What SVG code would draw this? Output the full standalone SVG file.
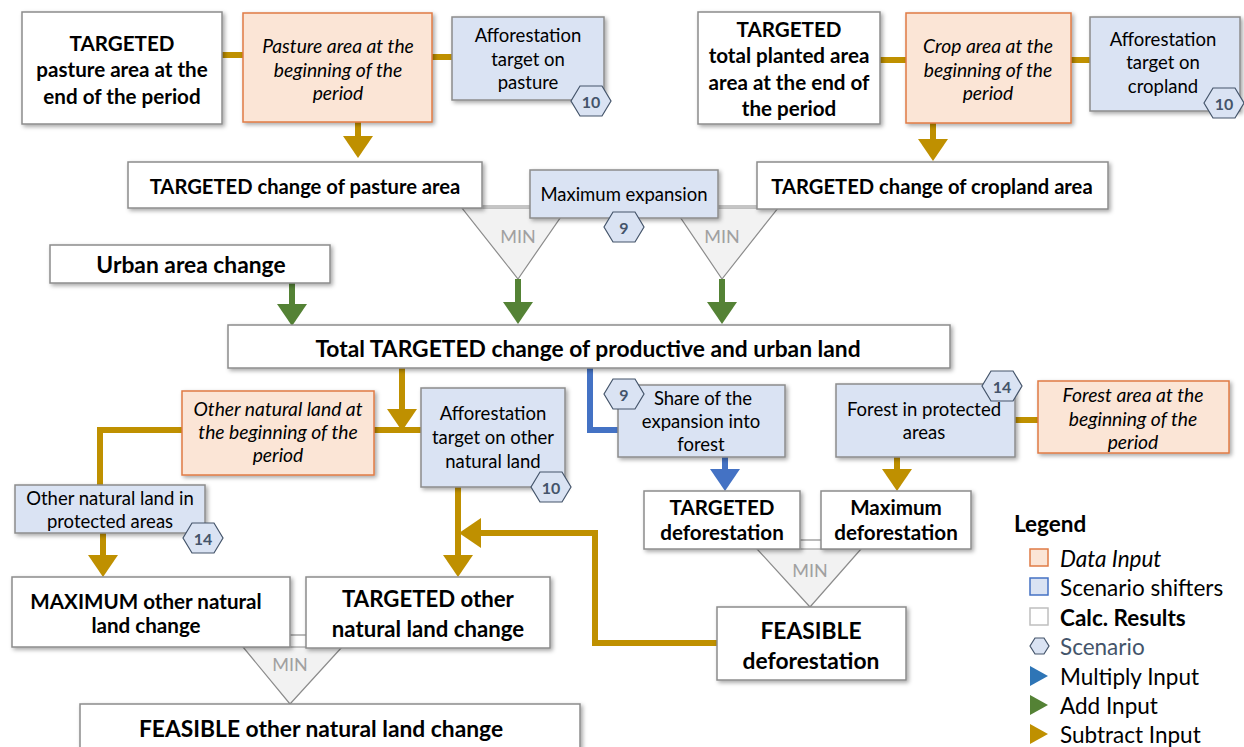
<svg xmlns="http://www.w3.org/2000/svg" xmlns:xlink="http://www.w3.org/1999/xlink" width="1244" height="747" viewBox="0 0 1244 747">
  <style>
    text { font-family: Lato, "Liberation Sans", sans-serif; fill: #000; text-anchor: middle; dominant-baseline: central; }
    .calc { fill: #fff; stroke: #8c8c8c; stroke-width: 1.5; filter: url(#shadow); }
    .data { fill: #fbe5d6; stroke: #e07b45; stroke-width: 1.5; filter: url(#shadow); }
    .shift { fill: #dae3f3; stroke: #8c8c8c; stroke-width: 1.5; filter: url(#shadow); }
    .b19 { font-size: 20.6px; font-weight: bold; }
    .b20 { font-size: 20.2px; font-weight: bold; }
    .b21 { font-size: 22.2px; font-weight: bold; }
    .b23 { font-size: 22.8px; font-weight: bold; }
    .it { font-size: 19.3px; font-style: italic; }
    .rg { font-size: 18.5px; }
    .hexnum { font-size: 16px; font-weight: bold; fill: #44546a; }
    .min { font-size: 18px; fill: #a0a0a0; }
    .tri { fill: #f2f2f2; stroke: #8c8c8c; stroke-width: 1.2; }
    .thin { stroke: #8c8c8c; stroke-width: 1.2; fill: none; }
    .gold { stroke: #bf9000; stroke-width: 6; fill: none; }
    .green { stroke: #548235; stroke-width: 6; fill: none; }
    .blue { stroke: #4472c4; stroke-width: 6; fill: none; }
    .leg { font-size: 22.5px; text-anchor: start; }
  </style>
  <defs>
    <filter id="shadow" x="-10%" y="-10%" width="130%" height="140%">
      <feDropShadow dx="2" dy="2" stdDeviation="2" flood-color="#000" flood-opacity="0.35"/>
    </filter>
    <path id="hex" d="M-20,0 L-11,-15 L11,-15 L20,0 L11,15 L-11,15 Z" fill="#dae3f3" stroke="#44546a" stroke-width="1.2"/>
    <marker id="ahGold" viewBox="0 0 22 30" refX="0" refY="15" markerWidth="22" markerHeight="30" markerUnits="userSpaceOnUse" orient="auto">
      <path d="M0,0 L22,15 L0,30 Z" fill="#bf9000"/>
    </marker>
    <marker id="ahGreen" viewBox="0 0 22 30" refX="0" refY="15" markerWidth="22" markerHeight="30" markerUnits="userSpaceOnUse" orient="auto">
      <path d="M0,0 L22,15 L0,30 Z" fill="#548235"/>
    </marker>
    <marker id="ahBlue" viewBox="0 0 22 30" refX="0" refY="15" markerWidth="22" markerHeight="30" markerUnits="userSpaceOnUse" orient="auto">
      <path d="M0,0 L22,15 L0,30 Z" fill="#4472c4"/>
    </marker>
  </defs>

  <rect width="1244" height="747" fill="#fff"/>

  <!-- MIN operators -->
  <g id="min-operators">
    <line class="thin" x1="482" y1="206" x2="530" y2="206"/>
    <line class="thin" x1="718" y1="206" x2="757" y2="206"/>
    <line class="thin" x1="290" y1="635" x2="306" y2="635"/>
    <line class="thin" x1="800" y1="540" x2="821" y2="540"/>
    <polygon class="tri" points="462,208 567,208 518,279"/>
    <text class="min" x="518" y="236">MIN</text>
    <polygon class="tri" points="674,208 778,208 722,279"/>
    <text class="min" x="722" y="236">MIN</text>
    <polygon class="tri" points="243,647 342,647 290,704"/>
    <text class="min" x="290" y="664">MIN</text>
    <polygon class="tri" points="757,549 861,549 810,607"/>
    <text class="min" x="810" y="570">MIN</text>
  </g>

  <!-- connectors -->
  <g id="connectors">
    <line class="gold" x1="222" y1="55" x2="243" y2="55"/>
    <line class="gold" x1="432" y1="57" x2="452" y2="57"/>
    <line class="gold" x1="358" y1="122" x2="358" y2="136" marker-end="url(#ahGold)"/>
    <line class="gold" x1="880" y1="60" x2="906" y2="60"/>
    <line class="gold" x1="1071" y1="60" x2="1090" y2="60"/>
    <line class="gold" x1="933" y1="123" x2="933" y2="139" marker-end="url(#ahGold)"/>
    <line class="green" x1="292" y1="283" x2="292" y2="304" marker-end="url(#ahGreen)"/>
    <line class="green" x1="518" y1="279" x2="518" y2="302" marker-end="url(#ahGreen)"/>
    <line class="green" x1="722" y1="279" x2="722" y2="302" marker-end="url(#ahGreen)"/>
    <line class="gold" x1="402" y1="368" x2="402" y2="409" marker-end="url(#ahGold)"/>
    <polyline class="gold" points="182,430 100,430 100,485"/>
    <line class="gold" x1="374" y1="430" x2="421" y2="430"/>
    <line class="gold" x1="103" y1="533" x2="103" y2="555" marker-end="url(#ahGold)"/>
    <line class="gold" x1="458" y1="487" x2="458" y2="555" marker-end="url(#ahGold)"/>
    <polyline class="gold" points="717,643 595,643 595,533 481,533" marker-end="url(#ahGold)"/>
    <polyline class="blue" points="590,368 590,430 618,430"/>
    <line class="blue" x1="725" y1="457" x2="725" y2="469" marker-end="url(#ahBlue)"/>
    <line class="gold" x1="1015" y1="420" x2="1038" y2="420"/>
    <line class="gold" x1="897" y1="457" x2="897" y2="469" marker-end="url(#ahGold)"/>
  </g>

  <!-- pasture branch -->
  <g id="targeted-pasture-end">
    <rect class="calc" x="22" y="12" width="200" height="112"/>
    <text class="b19" x="122" y="43">TARGETED</text>
    <text class="b19" x="122" y="69">pasture area at the</text>
    <text class="b19" x="122" y="96">end of the period</text>
  </g>
  <g id="pasture-begin">
    <rect class="data" x="243" y="13" width="189" height="109"/>
    <text class="it" x="338" y="45">Pasture area at the</text>
    <text class="it" x="338" y="69">beginning of the</text>
    <text class="it" x="338" y="92">period</text>
  </g>
  <g id="afforestation-pasture">
    <rect class="shift" x="452" y="17" width="152" height="83"/>
    <text class="rg" x="528" y="35">Afforestation</text>
    <text class="rg" x="528" y="59">target on</text>
    <text class="rg" x="528" y="82">pasture</text>
    <use xlink:href="#hex" transform="translate(591,101)"/>
    <text class="hexnum" x="591" y="101">10</text>
  </g>
  <g id="targeted-change-pasture">
    <rect class="calc" x="128" y="162" width="354" height="46"/>
    <text class="b20" x="305" y="186">TARGETED change of pasture area</text>
  </g>

  <!-- cropland branch -->
  <g id="targeted-planted-end">
    <rect class="calc" x="698" y="12" width="182" height="112"/>
    <text class="b19" x="789" y="29">TARGETED</text>
    <text class="b19" x="789" y="55">total planted area</text>
    <text class="b19" x="789" y="82">area at the end of</text>
    <text class="b19" x="789" y="108">the period</text>
  </g>
  <g id="crop-begin">
    <rect class="data" x="906" y="13" width="165" height="110"/>
    <text class="it" x="988" y="45">Crop area at the</text>
    <text class="it" x="988" y="69">beginning of the</text>
    <text class="it" x="988" y="92">period</text>
  </g>
  <g id="afforestation-cropland">
    <rect class="shift" x="1090" y="17" width="150" height="94"/>
    <text class="rg" x="1163" y="39">Afforestation</text>
    <text class="rg" x="1163" y="62">target on</text>
    <text class="rg" x="1163" y="86">cropland</text>
    <use xlink:href="#hex" transform="translate(1224,103)"/>
    <text class="hexnum" x="1224" y="103">10</text>
  </g>
  <g id="targeted-change-cropland">
    <rect class="calc" x="757" y="162" width="351" height="47"/>
    <text class="b20" x="932" y="186">TARGETED change of cropland area</text>
  </g>

  <g id="maximum-expansion">
    <rect class="shift" x="530" y="170" width="188" height="48"/>
    <text class="rg" x="624" y="194">Maximum expansion</text>
    <use xlink:href="#hex" transform="translate(624,227)"/>
    <text class="hexnum" x="624" y="227">9</text>
  </g>

  <g id="urban-change">
    <rect class="calc" x="50" y="245" width="280" height="38"/>
    <text class="b23" x="191" y="264">Urban area change</text>
  </g>

  <g id="total-targeted-change">
    <rect class="calc" x="228" y="325" width="722" height="43"/>
    <text class="b23" x="588" y="348">Total TARGETED change of productive and urban land</text>
  </g>

  <!-- other natural land branch -->
  <g id="other-natural-begin">
    <rect class="data" x="182" y="391" width="192" height="84"/>
    <text class="it" x="278" y="408">Other natural land at</text>
    <text class="it" x="278" y="431">the beginning of the</text>
    <text class="it" x="278" y="454">period</text>
  </g>
  <g id="afforestation-other-natural">
    <rect class="shift" x="421" y="388" width="144" height="99"/>
    <text class="rg" x="493" y="413">Afforestation</text>
    <text class="rg" x="493" y="437">target on other</text>
    <text class="rg" x="493" y="461">natural land</text>
    <use xlink:href="#hex" transform="translate(551,487)"/>
    <text class="hexnum" x="551" y="487">10</text>
  </g>
  <g id="other-natural-protected">
    <rect class="shift" x="15" y="485" width="190" height="48"/>
    <text class="rg" x="110" y="498">Other natural land in</text>
    <text class="rg" x="110" y="521">protected areas</text>
    <use xlink:href="#hex" transform="translate(203,538)"/>
    <text class="hexnum" x="203" y="538">14</text>
  </g>
  <g id="maximum-other-natural">
    <rect class="calc" x="12" y="577" width="278" height="70"/>
    <text class="b19" x="146" y="601">MAXIMUM other natural</text>
    <text class="b19" x="146" y="625">land change</text>
  </g>
  <g id="targeted-other-natural">
    <rect class="calc" x="306" y="577" width="244" height="71"/>
    <text class="b21" x="428" y="598">TARGETED other</text>
    <text class="b21" x="428" y="628">natural land change</text>
  </g>
  <g id="feasible-other-natural">
    <rect class="calc" x="80" y="704" width="500" height="60"/>
    <text class="b23" x="321" y="728">FEASIBLE other natural land change</text>
  </g>

  <!-- forest branch -->
  <g id="share-into-forest">
    <rect class="shift" x="618" y="385" width="167" height="72"/>
    <text class="rg" x="703" y="398">Share of the</text>
    <text class="rg" x="701" y="421">expansion into</text>
    <text class="rg" x="701" y="444">forest</text>
    <use xlink:href="#hex" transform="translate(624,394)"/>
    <text class="hexnum" x="624" y="394">9</text>
  </g>
  <g id="forest-protected">
    <rect class="shift" x="836" y="384" width="179" height="73"/>
    <text class="rg" x="924" y="409">Forest in protected</text>
    <text class="rg" x="924" y="432">areas</text>
    <use xlink:href="#hex" transform="translate(1002,386)"/>
    <text class="hexnum" x="1002" y="386">14</text>
  </g>
  <g id="forest-begin">
    <rect class="data" x="1038" y="381" width="191" height="72"/>
    <text class="it" x="1133" y="394">Forest area at the</text>
    <text class="it" x="1133" y="418">beginning of the</text>
    <text class="it" x="1133" y="441">period</text>
  </g>
  <g id="targeted-deforestation">
    <rect class="calc" x="644" y="491" width="156" height="58"/>
    <text class="b19" x="722" y="507">TARGETED</text>
    <text class="b19" x="722" y="532">deforestation</text>
  </g>
  <g id="maximum-deforestation">
    <rect class="calc" x="821" y="491" width="150" height="58"/>
    <text class="b19" x="896" y="507">Maximum</text>
    <text class="b19" x="896" y="532">deforestation</text>
  </g>
  <g id="feasible-deforestation">
    <rect class="calc" x="717" y="607" width="189" height="73"/>
    <text class="b23" x="811" y="630">FEASIBLE</text>
    <text class="b23" x="811" y="660">deforestation</text>
  </g>

  <!-- legend -->
  <g id="legend">
    <text class="leg" x="1014" y="523" style="font-weight:bold">Legend</text>
    <rect x="1030" y="549" width="18" height="17" fill="#fbe5d6" stroke="#e07b45" stroke-width="1.5"/>
    <text class="leg" x="1060" y="558" style="font-style:italic">Data Input</text>
    <rect x="1030" y="578" width="18" height="17" fill="#dae3f3" stroke="#4472c4" stroke-width="1.5"/>
    <text class="leg" x="1060" y="587">Scenario shifters</text>
    <rect x="1030" y="608" width="18" height="17" fill="#fff" stroke="#bfbfbf" stroke-width="1.5"/>
    <text class="leg" x="1060" y="617" style="font-weight:bold">Calc. Results</text>
    <path d="M1030,646 L1035,638 L1044,638 L1049,646 L1044,654 L1035,654 Z" fill="#dae3f3" stroke="#44546a" stroke-width="1.2"/>
    <text class="leg" x="1060" y="646" style="fill:#44546a">Scenario</text>
    <path d="M1030,666 L1048,676 L1030,686 Z" fill="#2e75b6"/>
    <text class="leg" x="1060" y="676">Multiply Input</text>
    <path d="M1030,695 L1048,705 L1030,715 Z" fill="#548235"/>
    <text class="leg" x="1060" y="705">Add Input</text>
    <path d="M1030,724 L1048,734 L1030,744 Z" fill="#bf9000"/>
    <text class="leg" x="1060" y="734">Subtract Input</text>
  </g>
</svg>
